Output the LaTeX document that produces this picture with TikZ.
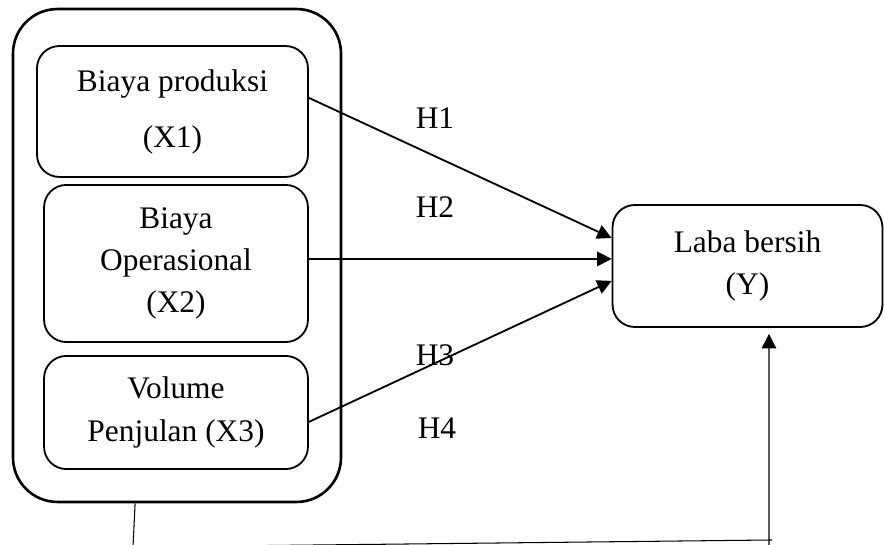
\documentclass[tikz,border=0pt]{standalone}
\usepackage{fontspec}
\setmainfont{Liberation Serif}
\usetikzlibrary{arrows.meta}

\begin{document}
\begin{tikzpicture}[x=0.382pt, y=-0.382pt, font=\fontsize{12}{14}\selectfont,
    varbox/.style={draw, rounded corners=8.5pt, line width=0.7pt, align=center, font=\fontsize{12}{16.2}\selectfont},
    link/.style={draw, line width=0.7pt, -{Triangle[length=5.5pt,width=5.5pt]}}]
  \useasboundingbox (0,0) rectangle (884,545);
  % independent variables
  \node[draw, rounded corners=17pt, line width=1pt, minimum width=125.3pt, minimum height=188.3pt] (outer) at (177,255.5) {};
  \node[varbox, minimum width=103.5pt, minimum height=50pt, font=\fontsize{12}{21.4}\selectfont] (x1) at (172.5,111.5) {Biaya produksi\\(X1)};
  \node[varbox, minimum width=100.8pt, minimum height=60pt] (x2) at (176,263.5) {Biaya\\Operasional\\(X2)};
  \node[varbox, minimum width=100.8pt, minimum height=43.2pt] (x3) at (176,412.5) {Volume\\Penjulan (X3)};
  % dependent variable
  \node[varbox, minimum width=103.1pt, minimum height=46.6pt, font=\fontsize{12}{15.7}\selectfont] (y) at (747.5,266) {Laba bersih\\(Y)};
  % hypotheses
  \node (h1) at (435,118) {H1};
  \node (h2) at (435,207) {H2};
  \node (h3) at (435,355) {H3};
  \node (h4) at (437,428) {H4};
  \path[link] ([yshift=5.2pt]x1.east) -- ([yshift=10.7pt]y.west);
  \path[link] ([yshift=1.7pt]x2.east) -- ([yshift=2.7pt]y.west);
  \path[link] ([yshift=-3.6pt]x3.east) -- ([yshift=-5.7pt]y.west);
  % simultaneous
  \coordinate (c1) at (133,547);
  \coordinate (c2) at (772,540);
  \coordinate (c3) at (769,546);
  \draw[line width=0.4pt] ([xshift=-16pt]outer.south) -- (c1) -- (c2);
  \path[draw, line width=0.4pt, -{Triangle[length=5.5pt,width=5.5pt]}] (c3) -- ([xshift=8.2pt,yshift=-2.3pt]y.south);
\end{tikzpicture}
\end{document}
